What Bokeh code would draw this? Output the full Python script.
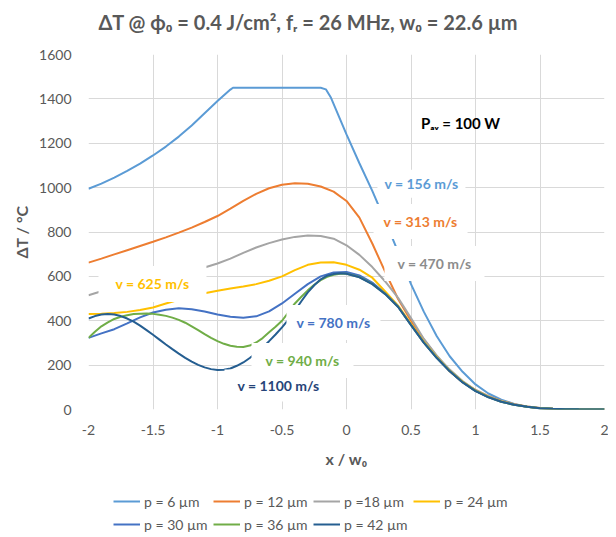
from bokeh.plotting import figure
from bokeh.layouts import column
from bokeh.models import Label, Legend, LegendItem, FixedTicker, ColumnDataSource
from bokeh.embed import file_html
from bokeh.resources import INLINE

# ---------------- data ----------------
x_coarse = [-2.0, -1.9, -1.8, -1.7, -1.6, -1.5, -1.4, -1.3, -1.2, -1.1, -1.0,
            -0.9, -0.8, -0.7, -0.6, -0.5, -0.4, -0.3, -0.2, -0.1, 0.0,
            0.1, 0.2, 0.3, 0.4, 0.5, 0.6, 0.7, 0.8, 0.9, 1.0,
            1.1, 1.2, 1.3, 1.4, 1.5, 1.6, 1.7, 1.8, 1.9, 2.0]

x_fine = [-2.0, -1.95, -1.9, -1.85, -1.8, -1.75, -1.7, -1.65, -1.6, -1.55, -1.5,
          -1.45, -1.4, -1.35, -1.3, -1.25, -1.2, -1.15, -1.1, -1.05, -1.0,
          -0.95, -0.9, -0.85, -0.8, -0.75, -0.7, -0.65, -0.6, -0.55, -0.5,
          -0.45, -0.4, -0.35, -0.3, -0.25, -0.2, -0.15, -0.1, -0.05, 0.0,
          0.1, 0.2, 0.3, 0.4, 0.5, 0.6, 0.7, 0.8, 0.9, 1.0,
          1.1, 1.2, 1.3, 1.4, 1.5, 1.6, 1.7, 1.8, 1.9, 2.0]

x_p6 = [-2.0, -1.9, -1.8, -1.7, -1.6, -1.5, -1.4, -1.3, -1.2, -1.1, -1.0, -0.9,
        -0.88, -0.2, -0.16, -0.12, 0.0, 0.1, 0.2, 0.3, 0.4, 0.5, 0.6, 0.7, 0.8,
        0.9, 1.0, 1.1, 1.2, 1.3, 1.4, 1.5, 1.6, 1.7, 1.8, 1.9, 2.0]
dT_p6 = [995, 1018, 1045, 1075, 1108, 1145, 1185, 1230, 1280, 1335, 1390, 1442,
         1450, 1450, 1443, 1405, 1240, 1110, 985, 850, 710, 565, 440, 330, 240,
         170, 113, 72, 44, 25, 12, 5, 2.5, 1.2, 0.5, 0.2, 0]

dT_p12 = [662, 680, 699, 718, 737, 756, 776, 797, 820, 845, 872,
          905, 940, 972, 997, 1013, 1020, 1017, 1005, 982, 940,
          865, 748, 620, 498, 400, 315, 240, 172, 123, 88,
          60, 39, 24, 14, 7, 3.5, 1.7, 0.8, 0.3, 0]

dT_p18 = [515, 533, 548, 562, 576, 590, 603, 615, 627, 640, 658,
          680, 706, 730, 750, 766, 778, 784, 782, 770, 740,
          697, 642, 577, 503, 412, 318, 243, 180, 128, 88,
          59, 38, 23, 13, 7, 3.5, 1.7, 0.8, 0.3, 0]

dT_p24 = [430, 432, 435, 440, 448, 460, 478, 495, 510, 524, 535,
          545, 554, 565, 580, 600, 628, 652, 663, 664, 652,
          630, 594, 532, 468, 386, 305, 236, 175, 125, 85,
          57, 36, 22, 12, 6, 3, 1.5, 0.7, 0.3, 0]

dT_p30 = [323, 343, 362, 388, 415, 437, 450, 456, 452, 442, 428,
          418, 413, 420, 442, 478, 522, 565, 600, 618, 620,
          604, 572, 523, 464, 382, 301, 233, 173, 123, 84,
          56, 35, 21, 12, 6, 3, 1.5, 0.7, 0.3, 0]

dT_p36 = [323, 350, 375, 393, 408, 418, 425, 430, 432, 433, 431,
          427, 422, 414, 404, 391, 375, 358, 340, 323, 308,
          296, 287, 283, 282, 288, 302, 322, 348, 373, 400,
          438, 478, 508, 537, 562, 583, 598, 607, 612, 612,
          597, 566, 521, 463, 381, 301, 233, 173, 123, 84,
          56, 35, 21, 12, 6, 3, 1.5, 0.7, 0.3, 0]

dT_p42 = [410, 421, 428, 430, 428, 421, 410, 396, 378, 358, 337,
          315, 293, 272, 252, 233, 216, 201, 190, 182, 178,
          179, 185, 197, 212, 232, 255, 280, 308, 338, 370,
          405, 445, 488, 528, 560, 587, 603, 611, 614, 612,
          596, 565, 520, 462, 380, 300, 232, 172, 122, 83,
          55, 35, 21, 12, 6, 3, 1.5, 0.7, 0.3, 0]

series_names = ["p = 6 µm", "p = 12 µm", "p =18 µm", "p = 24 µm",
                "p = 30 µm", "p = 36 µm", "p = 42 µm"]
series_colors = ["#5B9BD5", "#ED7D31", "#A5A5A5", "#FFC000",
                 "#4472C4", "#70AD47", "#255E91"]

# velocity labels (centres in data coordinates)
vel_text = ["v = 156 m/s", "v = 313 m/s", "v = 470 m/s", "v = 625 m/s",
            "v = 780 m/s", "v = 940 m/s", "v = 1100 m/s"]
vel_x = [0.581, 0.574, 0.682, -1.504, -0.101, -0.341, -0.527]
vel_y = [1018, 847, 658, 566, 392, 221, 108]
vel_color = ["#5B9BD5", "#ED7D31", "#8C8C8C", "#FFC000",
             "#4472C4", "#70AD47", "#264478"]
box_w = [88, 94, 100, 108, 94, 102, 108]
box_h = [28, 35, 35, 36, 35, 35, 32]

x_ticks = [-2, -1.5, -1, -0.5, 0, 0.5, 1, 1.5, 2]
x_tick_labels = ["-2", "-1.5", "-1", "-0.5", "0", "0.5", "1", "1.5", "2"]
y_ticks = [0, 200, 400, 600, 800, 1000, 1200, 1400, 1600]

title_text = "ΔT @ ϕ₀ = 0.4 J/cm², fᵣ = 26 MHz, w₀ = 22.6 µm"
power_text = "Pₐᵥ = 100 W"

FONT = "Lato"
GREY = "#595959"
W = 608
LEFT = 88
RIGHT = 4
FRAME_W = W - LEFT - RIGHT


def strip_fig(height):
    f = figure(width=W, height=height, x_range=(0, FRAME_W), y_range=(0, height),
               output_backend="svg", toolbar_location=None,
               x_axis_location=None, y_axis_location=None,
               min_border_left=LEFT, min_border_right=RIGHT,
               min_border_top=0, min_border_bottom=0)
    f.outline_line_color = None
    f.grid.visible = False
    return f


# ---------------- title strip ----------------
title_fig = strip_fig(40)
title_fig.add_layout(Label(x=220, y=19, text=title_text, text_color=GREY,
                           text_font=FONT, text_font_size="20px",
                           text_font_style="bold", text_align="center",
                           text_baseline="middle"))

# ---------------- main figure ----------------
p = figure(width=W, height=434, x_range=(-2, 2), y_range=(0, 1600),
           output_backend="svg", toolbar_location=None,
           min_border_left=LEFT, min_border_right=RIGHT,
           min_border_top=14, min_border_bottom=65)
p.outline_line_color = None

p.xaxis.ticker = FixedTicker(ticks=x_ticks)
p.xaxis.major_label_overrides = {t: l for t, l in zip(x_ticks, x_tick_labels)}
p.yaxis.ticker = FixedTicker(ticks=y_ticks)

for ax in (p.xaxis, p.yaxis):
    ax.axis_line_color = None
    ax.major_tick_line_color = None
    ax.minor_tick_line_color = None
    ax.major_label_text_font = FONT
    ax.major_label_text_font_size = "14px"
    ax.major_label_text_color = GREY
    ax.axis_label_text_font = FONT
    ax.axis_label_text_font_size = "16px"
    ax.axis_label_text_font_style = "bold"
    ax.axis_label_text_color = GREY

p.xaxis.axis_label = "x / w₀"
p.yaxis.axis_label = "ΔT / °C"
p.xaxis.major_label_standoff = 9
p.xaxis.axis_label_standoff = 11
p.yaxis.major_label_standoff = 11
p.yaxis.axis_label_standoff = 5

p.xgrid.ticker = FixedTicker(ticks=x_ticks)
p.ygrid.ticker = FixedTicker(ticks=y_ticks)
p.grid.grid_line_color = "#D9D9D9"
p.grid.grid_line_width = 1

xs_list = [x_p6, x_coarse, x_coarse, x_coarse, x_coarse, x_fine, x_fine]
ys_list = [dT_p6, dT_p12, dT_p18, dT_p24, dT_p30, dT_p36, dT_p42]
for xs, ys, c in zip(xs_list, ys_list, series_colors):
    p.line(xs, ys, line_color=c, line_width=2)

# white label boxes (like Excel data label fill)
box_src = ColumnDataSource(dict(x=vel_x, y=vel_y, w=box_w, h=box_h))
p.rect(x="x", y="y", width="w", height="h", width_units="screen",
       height_units="screen", source=box_src, fill_color="white",
       line_color=None)

for t, x, y, c in zip(vel_text, vel_x, vel_y, vel_color):
    p.add_layout(Label(x=x, y=y, text=t, text_color=c, text_font=FONT,
                       text_font_size="14px", text_font_style="bold",
                       text_align="center", text_baseline="middle"))

p.add_layout(Label(x=0.884, y=1293, text=power_text, text_color="black",
                   text_font=FONT, text_font_size="15px",
                   text_font_style="bold", text_align="center",
                   text_baseline="middle"))

# ---------------- legend strip ----------------
leg_fig = strip_fig(59)
leg_renderers = [leg_fig.line(x=[-20, -10], y=[-20, -20], line_color=c,
                              line_width=2)
                 for c in series_colors]
items = [LegendItem(label=n, renderers=[r])
         for n, r in zip(series_names, leg_renderers)]
legend = Legend(items=items, location=(25, 0), orientation="horizontal",
                ncols=4, glyph_width=27, glyph_height=18, label_height=18,
                label_width=64, label_standoff=4, spacing=5, padding=0,
                margin=0, border_line_color=None, background_fill_alpha=0,
                label_text_font=FONT, label_text_font_size="14px",
                label_text_color=GREY)
leg_fig.add_layout(legend)

layout = column(title_fig, p, leg_fig, spacing=0)
open("out.html", "w").write(file_html(layout, INLINE))
